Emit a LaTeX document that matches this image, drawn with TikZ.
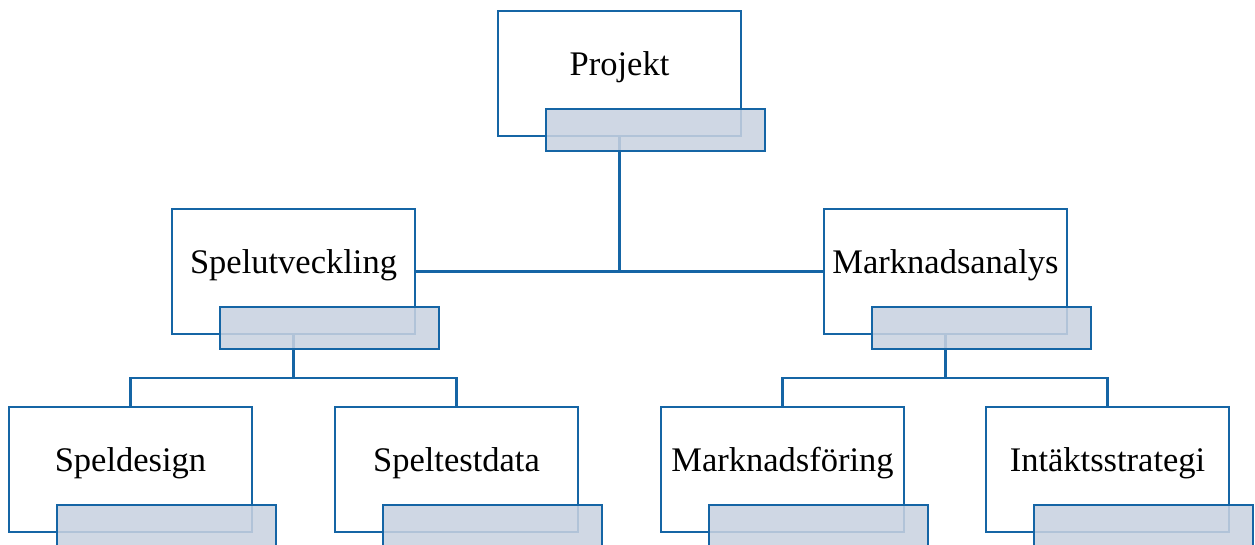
\documentclass[tikz,border=0pt]{standalone}
\usepackage{fontspec}
\setmainfont{Liberation Serif}
\definecolor{bord}{RGB}{21,101,165}
\definecolor{ovl}{RGB}{201,210,224}
\tikzset{
  x=1pt,y=-1pt,
  orgbox/.style={draw=bord,line width=2.3pt,fill=white},
  overlay box/.style={draw=bord,line width=2.3pt,fill=ovl,fill opacity=0.87},
  conn/.style={draw=bord,line width=2.5pt},
  lbl/.style={font=\fontsize{34.5}{40}\selectfont,anchor=base,inner sep=0pt}
}
% #1 name, #2 left x, #3 top y, #4 text
\newcommand{\orgunit}[4]{%
  \path[orgbox] (#2,#3) rectangle ++(243,125);
  \coordinate (#1-top) at (#2+121.5,#3);
  \coordinate (#1-bot) at (#2+121.5,#3+125);
  \coordinate (#1-left) at (#2,#3+62.5);
  \coordinate (#1-right) at (#2+243,#3+62.5);
  \node[lbl] (#1-text) at (#2+121.5,#3+64) {#4};
}
\newcommand{\orgovl}[3]{%
  \path[overlay box] (#2+48,#3+98) rectangle ++(219,42);
}
\begin{document}
\begin{tikzpicture}
\useasboundingbox (0,0) rectangle (1255,544);
\clip (0,0) rectangle (1255,544);
\orgunit{p}{498}{11}{Projekt}
\orgunit{a}{172}{209}{Spelutveckling}
\orgunit{b}{824}{209}{Marknadsanalys}
\orgunit{a1}{9}{407}{Speldesign}
\orgunit{a2}{335}{407}{Speltestdata}
\orgunit{b1}{661}{407}{Marknadsföring}
\orgunit{b2}{986}{407}{Intäktsstrategi}
% connectors
\draw[conn] (p-bot) -- (p-bot |- a-right);
\draw[conn] (a-right) -- (b-left);
\draw[conn] (a-bot) -- ++(0,44);
\draw[conn] (a1-top) -- ++(0,-29) -| (a2-top);
\draw[conn] (b-bot) -- ++(0,44);
\draw[conn] (b1-top) -- ++(0,-29) -| (b2-top);
% overlays
\orgovl{p}{498}{11}
\orgovl{a}{172}{209}
\orgovl{b}{824}{209}
\orgovl{a1}{9}{407}
\orgovl{a2}{335}{407}
\orgovl{b1}{661}{407}
\orgovl{b2}{986}{407}
\end{tikzpicture}
\end{document}
